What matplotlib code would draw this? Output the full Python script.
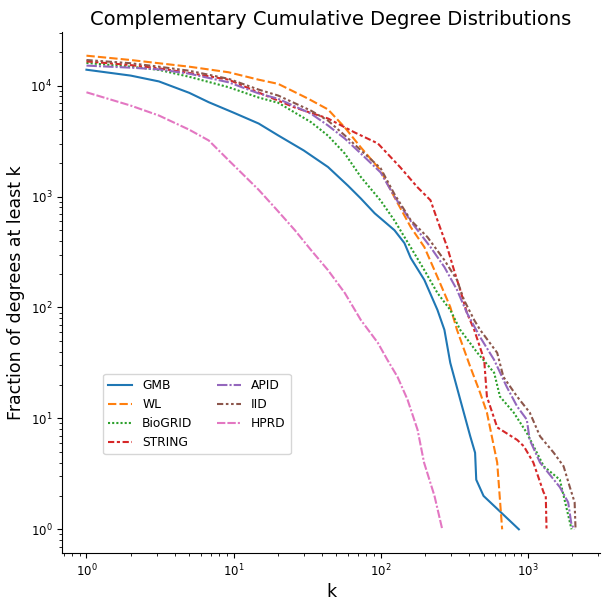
import matplotlib
matplotlib.use("Agg")
import matplotlib.pyplot as plt

names = ["GMB", "WL", "BioGRID", "STRING", "APID", "IID", "HPRD"]

gmb_k = [1, 2, 3.11, 5, 6.78, 10, 14.8, 20.1, 30, 43.8, 60, 73.3, 91, 124, 145, 160, 198, 243, 271, 297, 347, 406, 438, 446, 500, 869]
gmb_y = [13900, 12300, 10900, 8600, 7080, 5700, 4550, 3555, 2600, 1846, 1250, 959, 706, 497, 380, 279, 177, 95, 62.8, 31.7, 14.8, 6.9, 4.9, 2.8, 2, 1]

wl_k = [1, 2, 3.11, 5, 9.26, 14.8, 20.1, 32, 43.8, 57, 73.3, 99.8, 124, 160, 198, 243, 297, 330, 406, 474, 527, 619, 669]
wl_y = [18600, 17000, 15900, 14800, 13180, 11300, 10360, 7640, 6100, 4190, 2770, 1720, 985, 530, 350, 188, 101, 62.8, 29.2, 17, 11.3, 4, 1]

bio_k = [1, 2, 3.11, 5, 9.26, 14.8, 20.1, 33.6, 43.8, 57, 73.3, 99.8, 124, 160, 198, 243, 297, 347, 454, 590, 647, 801, 984, 1283, 1650, 1930, 1980]
bio_y = [16000, 14800, 13850, 12000, 9660, 7800, 7000, 4680, 3540, 2440, 1500, 920, 608, 348, 217, 135, 95, 62.8, 39, 25.8, 15.7, 11.3, 7.4, 3.7, 2.8, 1.16, 1]

str_k = [1, 2, 3.11, 5, 9.26, 15.4, 26.1, 43.8, 66.5, 95.6, 136, 178, 218, 243, 283, 315, 347, 386, 432, 505, 527, 619, 846, 940, 1090, 1280, 1324, 1340]
str_y = [16530, 15300, 14300, 13000, 11300, 8470, 6340, 5050, 3780, 3010, 1830, 1210, 925, 611, 350, 217, 144, 89, 62.8, 33.7, 15.7, 8.3, 6.4, 5.6, 4, 2.15, 2, 1]

apid_k = [1, 2, 3.11, 5, 9.26, 14.8, 20.1, 33.6, 43.8, 57, 73.3, 99.8, 124, 160, 178, 218, 271, 330, 386, 474, 590, 718, 846, 984, 1030, 1210, 1650, 1880, 1980, 2080]
apid_y = [15140, 14500, 14000, 12800, 10700, 8500, 7600, 5580, 4370, 3330, 2440, 1650, 1000, 600, 497, 350, 231, 144, 89, 54, 33.7, 19.3, 12.8, 9.75, 6.4, 4, 2.4, 1.75, 1.1, 1]

iid_k = [1, 2, 3.11, 5, 9.26, 14.8, 20.1, 33.6, 43.8, 57, 73.3, 99.8, 124, 160, 208, 271, 330, 368, 432, 474, 619, 682, 846, 1030, 1210, 1500, 1750, 1930, 2080, 2110]
iid_y = [17000, 15900, 14800, 13600, 11500, 9200, 8130, 5940, 4840, 3555, 2610, 1800, 1050, 612, 430, 267, 177, 117, 77, 62.8, 39, 23.7, 15.7, 11.3, 6.9, 4.9, 3.7, 2.4, 1.75, 1]

hprd_k = [1, 2, 3.11, 5, 6.78, 9.26, 14.8, 20, 26.1, 33.6, 43.8, 57, 73.3, 95.6, 111, 130, 152, 178, 197, 232, 262]
hprd_y = [8700, 6600, 5370, 4000, 3200, 2120, 1150, 740, 497, 329, 217, 135, 77, 48, 33.7, 23.7, 14.8, 7.9, 4, 2, 1]

series_k = [gmb_k, wl_k, bio_k, str_k, apid_k, iid_k, hprd_k]
series_y = [gmb_y, wl_y, bio_y, str_y, apid_y, iid_y, hprd_y]

colors = ["#1f77b4", "#ff7f0e", "#2ca02c", "#d62728", "#9467bd", "#8c564b", "#e377c2"]
dashes = [None, (4, 1.5), (1, 1), (3, 1.25, 1.5, 1.25), (5, 1, 1, 1),
          (3, 1.25, 1.25, 1.25, 1.25, 1.25), (4, 1, 4, 1, 1, 1)]

fig = plt.figure(figsize=(6.03, 6.0), dpi=100)
ax = fig.add_axes([62/603, 47/600, 538/603, 521/600])

for name, k, y, c, d in zip(names, series_k, series_y, colors, dashes):
    line, = ax.plot(k, y, color=c, lw=1.5, label=name)
    if d is not None:
        line.set_dashes(d)

ax.set_xscale("log")
ax.set_yscale("log")
ax.spines["top"].set_visible(False)
ax.spines["right"].set_visible(False)
ax.tick_params(labelsize=8.5)
ax.set_title("Complementary Cumulative Degree Distributions", fontsize=14, pad=5)
ax.set_xlabel("k", fontsize=12.5, labelpad=3)
ax.set_ylabel("Fraction of degrees at least k", fontsize=12.5)
ax.legend(ncol=2, loc="lower left", bbox_to_anchor=(0.065, 0.178), fontsize=8.8)

fig.savefig("out.png", dpi=100)
